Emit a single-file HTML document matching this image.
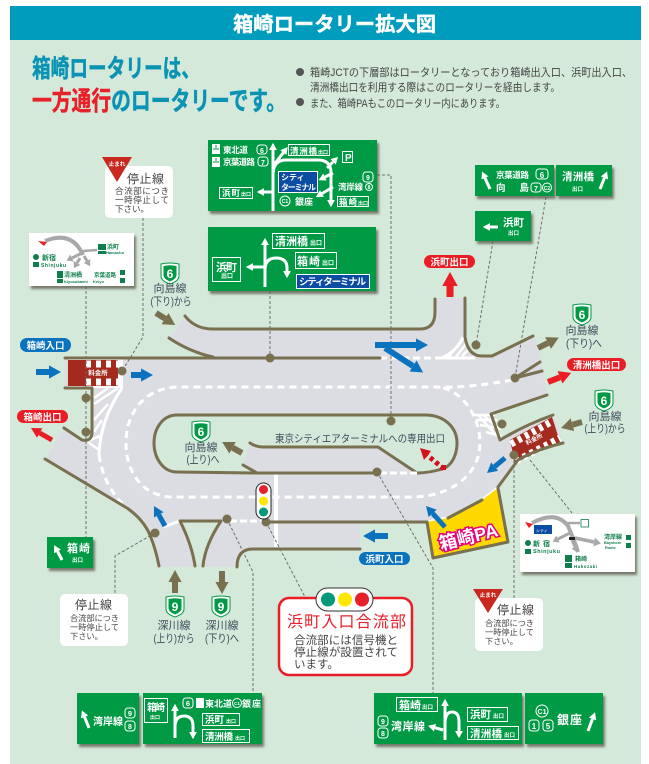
<!DOCTYPE html>
<html><head><meta charset="utf-8">
<style>
html,body{margin:0;padding:0;background:#fff;width:649px;height:764px;overflow:hidden}
svg{display:block}
text{font-family:"Liberation Sans","Noto Sans CJK JP",sans-serif}
.w{fill:#fff;font-weight:700}
.l{fill:#3f4a5a;font-size:11px;text-anchor:middle}
.c{fill:none;stroke:#6f6f66;stroke-width:1;stroke-dasharray:3 2}
.r{fill:none;stroke:#78704f;stroke-width:3;stroke-linecap:round;stroke-linejoin:round}
.b{fill:none;stroke:#fff;stroke-width:1}
.a{fill:none;stroke:#fff;stroke-width:3}
.p{fill:#fff;font-size:9.5px;font-weight:700;text-anchor:middle}
.s{fill:#009a44;filter:url(#sh)}
.g{fill:none;stroke:#a8a8a8}
</style></head><body>
<svg width="649" height="764" viewBox="0 0 649 764" xmlns="http://www.w3.org/2000/svg">
<defs>
<filter id="sh" x="-10%" y="-10%" width="125%" height="130%"><feDropShadow dx="2" dy="3" stdDeviation="1.2" flood-color="#5f5f50" flood-opacity=".8"/></filter>
<marker id="mb" viewBox="0 0 2 2.2" refX="0" refY="1.1" markerWidth="2" markerHeight="2.2" orient="auto"><path d="M0 0L2 1.1L0 2.2Z" fill="#0b72bd"/></marker>
<marker id="mr" viewBox="0 0 2 2.2" refX="0" refY="1.1" markerWidth="2" markerHeight="2.2" orient="auto"><path d="M0 0L2 1.1L0 2.2Z" fill="#ea1c24"/></marker>
<marker id="mo" viewBox="0 0 2 2.2" refX="0" refY="1.1" markerWidth="2" markerHeight="2.2" orient="auto"><path d="M0 0L2 1.1L0 2.2Z" fill="#78704f"/></marker>
<marker id="mw" viewBox="0 0 2.4 2.6" refX="0" refY="1.3" markerWidth="2.4" markerHeight="2.6" orient="auto"><path d="M0 0L2.4 1.3L0 2.6Z" fill="#fff"/></marker>
<marker id="mg" viewBox="0 0 2 2.6" refX="0" refY="1.3" markerWidth="2" markerHeight="2.6" orient="auto"><path d="M0 0L2 1.3L0 2.6Z" fill="#a8a8a8"/></marker>
<g id="sd"><path d="M-9,-9 Q0,-11 9,-9 L9,3 Q9,8 0,11 Q-9,8 -9,3Z" fill="#fff" stroke="#009a44" stroke-width="1"/><path d="M-6.5,-7 Q0,-8.5 6.5,-7 L6.5,2 Q6.5,6 0,8.5 Q-6.5,6 -6.5,2Z" fill="#009a44"/></g>
</defs>

<rect x="10" y="6" width="631" height="758" fill="#d4e9da"/>
<rect x="10" y="6" width="631" height="34" fill="#009cbd"/>
<text x="233" y="31" font-size="20" font-weight="700" fill="#fff" stroke="#fff" stroke-width=".4" textLength="203" lengthAdjust="spacingAndGlyphs">箱崎ロータリー拡大図</text>

<text x="32" y="77" font-size="25" font-weight="700" fill="#0a93b5" stroke="#0a93b5" stroke-width=".5" textLength="168" lengthAdjust="spacingAndGlyphs">箱崎ロータリーは、</text>
<text x="32" y="110" font-size="26" font-weight="700" fill="#0a93b5" stroke="#0a93b5" stroke-width=".5" textLength="254" lengthAdjust="spacingAndGlyphs"><tspan fill="#e8202a" stroke="#e8202a">一方通行</tspan>のロータリーです。</text>
<circle cx="300" cy="72" r="4" fill="#555"/><circle cx="300" cy="102" r="4" fill="#555"/>
<g font-size="11" fill="#444">
<text x="310" y="76" textLength="322" lengthAdjust="spacingAndGlyphs">箱崎JCTの下層部はロータリーとなっており箱崎出入口、浜町出入口、</text>
<text x="310" y="91" textLength="250" lengthAdjust="spacingAndGlyphs">清洲橋出口を利用する際はこのロータリーを経由します。</text>
<text x="310" y="107" textLength="195" lengthAdjust="spacingAndGlyphs">また、箱崎PAもこのロータリー内にあります。</text>
</g>

<!-- road -->
<path d="M65,358 L213,358 Q190,352 169,338 L185,316 Q195,329 213,329 L420,329 Q435,329 435,312 L435,298 L465,298 L465,337 Q468,356 482,356 L492,356 L533,336 L537,343 L547,394 L491,414 L500,440 L553,415 L563,443 Q535,450 518,460 L498,487 L448,518 L427,522 L360,522 L360,549 L253,549 Q237,549 237,567 L159,567 Q156,550 150,535 Q143,519 127,508 L45,459 L64,428 L82,440 L92,440 L92,388 L65,388Z" fill="#dcdce3"/>
<!-- center island -->
<path d="M177,415 L425,415 C445,415 457,428 457,443 C457,458 450,466 445,468 Q430,473 417,473 L177,472 C163,472 154,458 154,443 C154,428 163,415 177,415Z" fill="#d4e9da"/>
<path d="M250,443 Q256,447 263,447 L378,447 L417,473 L257,473 L243,465Z" fill="#dcdce3"/>
<!-- triangle island -->
<path d="M180,521 L221,521 Q205,545 203,567 L195,567 Q192,545 180,521Z" fill="#d4e9da"/>

<!-- hatching -->
<g fill="none" stroke="#fff" stroke-width="2.5">
<path d="M122,388 Q100,420 99,455" stroke-width="3"/>
<path d="M118,388L94,404M108,388L94,398M108,404L94,420M102,420L94,432M100,436L88,441M99,450L88,442"/>
<path d="M463,337 Q458,350 442,358" stroke-width="3"/>
<path d="M455,358L466,344M448,358L462,340M462,356L468,350"/>
<path d="M380,358H440" stroke-dasharray="7 4" stroke-width="3"/>
<path d="M438,358H475" stroke-width="3"/>
<path d="M472,415L495,415M476,420L497,420M480,425L498,428L483,415M486,432L500,436L490,415M478,415L497,436"/>
<path d="M276,473V547" stroke-width="4"/>
<path d="M230,521H263" stroke-width="3" stroke-dasharray="7 3"/>
<path d="M163,527L180,521" stroke-width="3"/>
<path d="M99,455 Q104,488 127,508" stroke-width="3" stroke-dasharray="7 5"/>
<path d="M428,522L448,518M482,500L498,488" stroke-width="3"/>
<path d="M512,380 Q470,388 435,387 L180,387 C145,387 126,412 126,443 C126,475 145,497 173,497 L412,497 C450,497 480,475 480,443 C480,415 460,387 435,387" stroke-width="3" stroke-dasharray="7 5"/>
</g>

<!-- toll markings -->
<rect x="68" y="359" width="55" height="29" fill="#fff"/>
<rect x="68" y="360" width="50" height="26" fill="#a52a1e"/>
<path d="M86,364H118M86,382H118" stroke="#fff" stroke-width="7" stroke-dasharray="5 5"/>
<text x="98" y="375" font-size="6.5" fill="#fff" font-weight="700" text-anchor="middle">料金所</text>
<path d="M510,440 L552,417 L560,442 L515,463Z" fill="#a52a1e"/>
<path d="M511,444L553,421M516,461L560,438" stroke="#fff" stroke-width="7" stroke-dasharray="4 4"/>
<text x="535" y="441" font-size="6" fill="#fff" font-weight="700" text-anchor="middle" transform="rotate(-27 535 441)">料金所</text>

<!-- PA -->
<path d="M498,488 L508,542 L433,558 L427,522 L448,518 L482,500Z" fill="#ffd800"/>
<path d="M498,488 L508,542 L433,558 L427,522" class="r"/>
<text x="470" y="543" font-size="18" font-weight="700" fill="#fff" stroke="#e6007e" stroke-width="3" paint-order="stroke" text-anchor="middle" transform="rotate(-14 470 543)">箱崎PA</text>

<!-- road lines -->
<g class="r">
<path d="M185,316 Q195,329 213,329 L420,329 Q435,329 435,312 L435,299"/>
<path d="M169,338 Q190,352 213,357"/>
<path d="M65,358 L380,358"/>
<path d="M465,298 L465,337 Q468,356 482,356 L492,356 L533,336"/>
<path d="M515,378 L540,362M515,378 L542,371"/>
<path d="M547,395 L491,414 L500,440 Q525,425 553,415"/>
<path d="M563,443 Q535,450 518,460 L498,487"/>
<path d="M448,518 L482,500"/>
<path d="M64,428 L82,440 Q92,442 92,432 L92,388 L65,388"/>
<path d="M45,459 L127,508 Q143,519 150,535 Q156,550 159,566"/>
<path d="M180,521 L221,521 M180,521 Q192,545 195,566 M221,521 Q205,545 203,566"/>
<path d="M267,522 L427,522"/>
<path d="M360,549 L253,549 Q237,549 237,567"/>
<path d="M243,465 L257,473 L377,473"/>
<path d="M417,473 Q430,473 445,468 C452,464 457,455 457,443 C457,428 445,415 425,415 L177,415 C163,415 154,428 154,443 C154,458 163,472 177,472 L257,473"/>
<path d="M250,443 Q256,447 263,447 L378,447 L417,473"/>
</g>
<path d="M380,473H417" stroke="#fff" stroke-width="3" stroke-dasharray="7 3"/>

<!-- red dotted arrow -->
<path d="M444,469 L427,455" stroke="#d2121a" stroke-width="5" stroke-dasharray="4 3" fill="none"/>
<path d="M420,448 L431,451 L424,460Z" fill="#d2121a"/>
<rect x="441" y="465" width="5" height="5" fill="#d2121a"/>

<!-- connectors -->
<g class="c">
<path d="M143,218V337L122,371"/>
<path d="M86,286V537"/>
<path d="M270,291V358"/>
<path d="M377,175H391V421"/>
<path d="M493,241L476,345"/>
<path d="M546,197L515,378"/>
<path d="M514,455V598"/>
<path d="M530,460L572,513"/>
<path d="M377,472L433,568V693"/>
<path d="M227,519L253,572V694"/>
<path d="M266,522L305,597"/>
<path d="M155,533L115,556V593"/>
</g>
<g fill="#78704f">
<circle cx="270" cy="358" r="4.5"/><circle cx="122" cy="371" r="4.5"/><circle cx="86" cy="398" r="4.5"/><circle cx="86" cy="432" r="4.5"/><circle cx="155" cy="533" r="4.5"/><circle cx="227" cy="519" r="4.5"/><circle cx="266" cy="522" r="4.5"/><circle cx="391" cy="421" r="4.5"/><circle cx="377" cy="472" r="4.5"/><circle cx="502" cy="424" r="4.5"/><circle cx="514" cy="455" r="4.5"/><circle cx="515" cy="378" r="4.5"/><circle cx="476" cy="345" r="4.5"/>
</g>

<!-- arrows -->
<g fill="none">
<g stroke="#0b72bd">
<path d="M36,372H49" stroke-width="6" marker-end="url(#mb)"/>
<path d="M131,375H141" stroke-width="6" marker-end="url(#mb)"/>
<path d="M375,345H416" stroke-width="6" marker-end="url(#mb)"/>
<path d="M385,348L413,366" stroke-width="6" marker-end="url(#mb)"/>
<path d="M505,458L494.7,466.6" stroke-width="5" marker-end="url(#mb)"/>
<path d="M445,527L432.7,513.4" stroke-width="5" marker-end="url(#mb)"/>
<path d="M165,526L158.8,514.8" stroke-width="5" marker-end="url(#mb)"/>
<path d="M388,536H375" stroke-width="6" marker-end="url(#mb)"/>
</g>
<g stroke="#ea1c24">
<path d="M450,297V286" stroke-width="7" marker-end="url(#mr)"/>
<path d="M52,440L39.7,433" stroke-width="5" marker-end="url(#mr)"/>
<path d="M548,382L560,377.3" stroke-width="6" marker-end="url(#mr)"/>
</g>
<g stroke="#78704f">
<path d="M156,313L165,318.6" stroke-width="6" marker-end="url(#mo)"/>
<path d="M538,348L548,343" stroke-width="6" marker-end="url(#mo)"/>
<path d="M242,453L232.6,447.8" stroke-width="6" marker-end="url(#mo)"/>
<path d="M582,422L572.5,424.7" stroke-width="6" marker-end="url(#mo)"/>
<path d="M175,593V582" stroke-width="6" marker-end="url(#mo)"/>
<path d="M222,571V582" stroke-width="6" marker-end="url(#mo)"/>
</g>
</g>

<!-- pills -->
<rect x="20" y="338" width="51" height="14" rx="7" fill="#0b72bd"/><text class="p" x="45.5" y="349">箱崎入口</text>
<rect x="17" y="410" width="51" height="13" rx="6.5" fill="#ea1c24"/><text class="p" x="42.5" y="420.5">箱崎出口</text>
<rect x="424" y="255" width="51" height="13" rx="6.5" fill="#ea1c24"/><text class="p" x="449.5" y="265.5">浜町出口</text>
<rect x="567" y="358" width="59" height="13" rx="6.5" fill="#ea1c24"/><text class="p" x="596.5" y="368.5">清洲橋出口</text>
<rect x="359" y="552" width="51" height="13" rx="6.5" fill="#0b72bd"/><text class="p" x="384.5" y="562.5">浜町入口</text>

<!-- shields and labels -->
<use href="#sd" x="170" y="273"/><text x="170" y="278" class="w" font-size="12" text-anchor="middle">6</text>
<text class="l" x="170" y="292">向島線</text><text class="l" x="171" y="305" textLength="41" lengthAdjust="spacingAndGlyphs">(下り)から</text>
<use href="#sd" x="582" y="314"/><text x="582" y="319" class="w" font-size="12" text-anchor="middle">6</text>
<text class="l" x="582" y="334">向島線</text><text class="l" x="584" y="347" textLength="36" lengthAdjust="spacingAndGlyphs">(下り)へ</text>
<use href="#sd" x="201" y="431"/><text x="201" y="436" class="w" font-size="12" text-anchor="middle">6</text>
<text class="l" x="201" y="451">向島線</text><text class="l" x="203" y="463" textLength="33" lengthAdjust="spacingAndGlyphs">(上り)へ</text>
<use href="#sd" x="604" y="400"/><text x="604" y="405" class="w" font-size="12" text-anchor="middle">6</text>
<text class="l" x="605" y="420">向島線</text><text class="l" x="605" y="432" textLength="41" lengthAdjust="spacingAndGlyphs">(上り)から</text>
<use href="#sd" x="175" y="606"/><text x="175" y="611" class="w" font-size="12" text-anchor="middle">9</text>
<text class="l" x="174" y="629">深川線</text><text class="l" x="174" y="642" textLength="41" lengthAdjust="spacingAndGlyphs">(上り)から</text>
<use href="#sd" x="221" y="606"/><text x="221" y="611" class="w" font-size="12" text-anchor="middle">9</text>
<text class="l" x="222" y="629">深川線</text><text class="l" x="222" y="642" textLength="34" lengthAdjust="spacingAndGlyphs">(下り)へ</text>
<text x="275" y="442" font-size="10.5" fill="#3f4a5a" textLength="170" lengthAdjust="spacingAndGlyphs">東京シティエアターミナルへの専用出口</text>

<!-- vertical signal -->
<rect x="256" y="483" width="15" height="36" rx="7.5" fill="#fff" stroke="#222" stroke-width="1"/>
<circle cx="263.500" cy="489.500" r="4.500" fill="#e8202a"/><circle cx="263.500" cy="501" r="4.500" fill="#ffe600"/><circle cx="263.500" cy="512" r="4.500" fill="#009a7a"/>

<!-- stop callouts -->
<rect x="105" y="166" width="68" height="52" rx="5" fill="#fff"/>
<path d="M102,157H132L117,182Z" fill="#c8281e"/><text x="117" y="166" font-size="5.500" fill="#fff" font-weight="700" text-anchor="middle">止まれ</text>
<text x="127" y="183" font-size="12" fill="#444" textLength="37">停止線</text>
<g font-size="8.500" fill="#444"><text x="115" y="194" textLength="54">合流部につき</text><text x="115" y="203" textLength="54">一時停止して</text><text x="115" y="212">下さい。</text></g>

<rect x="60" y="594" width="68" height="52" rx="5" fill="#fff"/>
<text x="75" y="609" font-size="12" fill="#444" textLength="37">停止線</text>
<g font-size="8.200" fill="#444"><text x="70" y="621" textLength="49">合流部につき</text><text x="70" y="630" textLength="49">一時停止して</text><text x="70" y="639">下さい。</text></g>

<rect x="475" y="598" width="68" height="53" rx="5" fill="#fff"/>
<path d="M473,589H503L488,613Z" fill="#c8281e"/><text x="488" y="597" font-size="5.500" fill="#fff" font-weight="700" text-anchor="middle">止まれ</text>
<text x="497" y="614" font-size="12" fill="#444" textLength="37">停止線</text>
<g font-size="8.200" fill="#444"><text x="485" y="626" textLength="49">合流部につき</text><text x="485" y="635" textLength="49">一時停止して</text><text x="485" y="644">下さい。</text></g>

<!-- red callout -->
<rect x="279" y="598" width="133" height="77" rx="10" fill="#fff" stroke="#ea1c24" stroke-width="2.500"/>
<rect x="316" y="588" width="57" height="23" rx="11.500" fill="#fff" stroke="#333" stroke-width="1"/>
<circle cx="328" cy="599.500" r="7" fill="#009a7a"/><circle cx="345" cy="599.500" r="7" fill="#ffe600"/><circle cx="362" cy="599.500" r="7" fill="#e8202a"/>
<text x="287" y="627" font-size="16" fill="#e8202a" textLength="119">浜町入口合流部</text>
<g font-size="11.500" fill="#444"><text x="294" y="644" textLength="104">合流部には信号機と</text><text x="294" y="656" textLength="104">停止線が設置されて</text><text x="294" y="668">います。</text></g>

<!-- S1 -->
<rect class="s" x="208" y="140" width="169" height="71"/>
<rect x="212" y="144" width="8" height="10" fill="#fff"/><rect x="212" y="157" width="8" height="10" fill="#fff"/>
<path d="M213,149H219M213,162H219M216,145V148M216,158V161" stroke="#009a44" fill="none"/>
<g class="b"><rect x="257" y="145" width="10" height="9" rx="3"/><rect x="258" y="157" width="10" height="9" rx="3"/><rect x="288.500" y="144.500" width="41" height="11"/><rect x="219.500" y="187.500" width="33" height="11"/><rect x="342.500" y="151.500" width="10" height="11"/><rect x="363" y="172" width="10" height="10" rx="3"/><circle cx="369" cy="187" r="3.500"/><rect x="337.500" y="196.500" width="31" height="10"/><circle cx="285" cy="201" r="5"/></g>
<g class="w" font-size="8.500"><text x="223" y="153" textLength="25">東北道</text><text x="223" y="165" textLength="32">京葉道路</text><text x="262" y="153" text-anchor="middle" font-size="7">6</text><text x="263" y="165" text-anchor="middle" font-size="7">7</text><text x="290" y="154" textLength="27">清洲橋</text><text x="318" y="154" font-size="5">出口</text><text x="222" y="196" textLength="18">浜町</text><text x="241" y="196" font-size="5">出口</text><text x="345" y="161" font-size="10">P</text><text x="368" y="180" text-anchor="middle" font-size="7">9</text><text x="338" y="190" textLength="25">湾岸線</text><text x="369" y="189" text-anchor="middle" font-size="5">8</text><text x="339" y="205" textLength="18">箱崎</text><text x="358" y="205" font-size="5">出口</text><text x="295" y="205" textLength="18" font-size="9">銀座</text><text x="285" y="203" text-anchor="middle" font-size="5">C1</text></g>
<path d="M273,211V150" class="a" marker-end="url(#mw)"/>
<path d="M273,166L283.300,152.700" class="a" stroke-width="2.500" marker-end="url(#mw)"/>
<path d="M273,192H264" class="a" marker-end="url(#mw)" stroke-width="3"/>
<path d="M273,175Q273,160 286,160L318,160Q331,160 331,173L331,200" class="a" marker-end="url(#mw)"/>
<path d="M327,168L333,162" class="a" stroke-width="2" marker-end="url(#mw)"/>
<path d="M333,173L325,177" class="a" stroke-width="2.500" marker-end="url(#mw)"/>
<path d="M333,187L322,193.500" class="a" stroke-width="2.500" marker-end="url(#mw)"/>
<rect x="278.500" y="171.500" width="39" height="21" fill="#0b4da2" stroke="#fff"/>
<text x="281" y="180" class="w" font-size="8">シティ</text><text x="281" y="190" class="w" font-size="8" textLength="35">ターミナル</text>

<!-- S2 -->
<rect class="s" x="208" y="227" width="168" height="64"/>
<g class="b"><rect x="212.500" y="257.500" width="28" height="24"/><rect x="272.500" y="233.500" width="52" height="15"/><rect x="295.500" y="252.500" width="41" height="16"/></g>
<rect x="296.500" y="274.500" width="73" height="14" fill="#0b4da2" stroke="#fff"/>
<g class="w"><text x="216" y="271" font-size="11" textLength="21">浜町</text><text x="221" y="278" font-size="6">出口</text><text x="275" y="245" font-size="11" textLength="33">清洲橋</text><text x="310" y="245" font-size="6">出口</text><text x="297" y="265" font-size="11" textLength="23">箱崎</text><text x="322" y="265" font-size="6">出口</text><text x="299" y="285" font-size="9.500" textLength="67">シティターミナル</text></g>
<path d="M265,287V245" class="a" marker-end="url(#mw)" stroke-width="4"/>
<path d="M265,267H253" class="a" stroke-width="4" marker-end="url(#mw)"/>
<path d="M265,270Q265,258 276,258Q287,258 287,268V271" class="a" marker-end="url(#mw)"/>

<!-- S3 -->
<rect x="29" y="233" width="105" height="53" fill="#fff" filter="url(#sh)"/>
<path d="M45,241Q72,230 83,255" class="g" stroke-width="4"/>
<path d="M82,253L72,258" class="g" stroke-width="3" marker-end="url(#mg)"/>
<path d="M80,258L77,263" class="g" stroke-width="3" marker-end="url(#mg)"/>
<path d="M84,256L87,261" class="g" stroke-width="3" marker-end="url(#mg)"/>
<path d="M83,251L97,250" class="g" stroke-width="2.500"/>
<path d="M38,241L47,242L44,246Z" fill="#e8202a"/>
<g fill="#0e7e4b" font-weight="700"><rect x="98" y="244" width="8" height="6"/><rect x="98" y="251" width="8" height="3"/><rect x="57" y="271" width="6" height="7"/><rect x="57" y="279" width="6" height="4"/><rect x="33" y="262" width="6" height="5"/>
<circle cx="36" cy="257" r="3"/><rect x="120" y="270" width="5" height="5"/><rect x="120" y="278" width="5" height="5"/>
<text x="107" y="249" font-size="6">浜町</text><text x="106" y="254" font-size="4">Hamacho</text><text x="42" y="260" font-size="7">新宿</text><text x="41" y="267" font-size="5" textLength="25">Shinjuku</text><text x="64" y="277" font-size="6">清洲橋</text><text x="64" y="283" font-size="4">Kiyosubashi</text><text x="94" y="277" font-size="5.500">京葉道路</text><text x="93" y="283" font-size="4">Keiyo</text></g>

<!-- S4 S5 S6 -->
<rect class="s" x="475" y="165" width="79" height="31"/>
<rect class="s" x="556" y="165" width="56" height="31"/>
<rect class="s" x="475" y="211" width="56" height="30"/>
<g class="w"><text x="496" y="178" font-size="8.500" textLength="33">京葉道路</text><text x="496" y="191" font-size="9.500" textLength="33">向 島</text><text x="562" y="180" font-size="10.500" textLength="32">清洲橋</text><text x="572" y="191" font-size="5.500">出口</text><text x="503" y="226" font-size="10.500" textLength="21">浜町</text><text x="508" y="235" font-size="5.500">出口</text>
<text x="542" y="178" font-size="8" text-anchor="middle">6</text><text x="536" y="191" font-size="7" text-anchor="middle">7</text><text x="547" y="190" font-size="5" text-anchor="middle">C2</text></g>
<g class="b"><rect x="536" y="169" width="12" height="10" rx="3"/><rect x="531" y="183" width="10" height="9" rx="3"/><circle cx="547" cy="187.500" r="4.500"/></g>
<path d="M490,189L485,178" class="a" stroke-width="4" marker-end="url(#mw)"/>
<path d="M600,189L604.400,178" class="a" stroke-width="4" marker-end="url(#mw)"/>
<path d="M498,227H490" class="a" stroke-width="4" marker-end="url(#mw)"/>

<!-- S7 -->
<rect class="s" x="47" y="537" width="46" height="31"/>
<text x="67" y="552" class="w" font-size="11" textLength="23">箱崎</text><text x="72" y="562" class="w" font-size="5.500">出口</text>
<path d="M62,560L57.500,551.500" class="a" stroke-width="4" marker-end="url(#mw)"/>

<!-- S8 S9 -->
<rect class="s" x="77" y="693" width="62" height="51"/>
<rect class="s" x="143" y="693" width="119" height="51"/>
<g class="b"><rect x="125" y="708" width="10" height="10" rx="3"/><rect x="125" y="721" width="10" height="10" rx="3"/><rect x="144.500" y="698.500" width="23" height="24"/><rect x="183" y="698" width="10" height="10" rx="3"/><rect x="202.500" y="713.500" width="37" height="12"/><rect x="202.500" y="729.500" width="47" height="13"/><circle cx="237" cy="703" r="4.500"/></g>
<rect x="196" y="698" width="8" height="10" fill="#fff"/>
<g class="w"><text x="93" y="725" font-size="10" textLength="30">湾岸線</text><text x="130" y="716" font-size="7.500" text-anchor="middle">9</text><text x="130" y="729" font-size="7" text-anchor="middle">8</text><text x="147" y="711" font-size="10" textLength="18">箱崎</text><text x="150" y="719" font-size="5">出口</text><text x="188" y="706" font-size="7.500" text-anchor="middle">6</text><text x="205" y="707" font-size="9" textLength="27">東北道</text><text x="237" y="705" font-size="4.500" text-anchor="middle">C1</text><text x="242" y="707" font-size="9" textLength="19">銀座</text><text x="205" y="723" font-size="9.500" textLength="19">浜町</text><text x="226" y="723" font-size="5">出口</text><text x="205" y="740" font-size="9.500" textLength="28">清洲橋</text><text x="235" y="740" font-size="5">出口</text></g>
<path d="M89,728L84.600,717" class="a" stroke-width="4" marker-end="url(#mw)"/>
<path d="M175,738V711" class="a" stroke-width="5" marker-end="url(#mw)"/>
<path d="M175,727Q175,716 184,716Q193,716 193,726V732" class="a" marker-end="url(#mw)"/>

<!-- S10 S11 -->
<rect class="s" x="374" y="693" width="148" height="51"/>
<rect class="s" x="525" y="693" width="78" height="51"/>
<g class="b"><rect x="396.500" y="697.500" width="41" height="14"/><rect x="467.500" y="707.500" width="40" height="14"/><rect x="467.500" y="726.500" width="51" height="13"/><rect x="378" y="716" width="10" height="10" rx="3"/><rect x="378" y="728" width="10" height="10" rx="3"/><circle cx="542" cy="711" r="6"/><rect x="529" y="720" width="10" height="11" rx="3"/><rect x="543" y="720" width="10" height="11" rx="3"/></g>
<g class="w"><text x="399" y="709" font-size="11" textLength="22">箱崎</text><text x="422" y="709" font-size="5.500">出口</text><text x="470" y="718" font-size="10.500" textLength="21">浜町</text><text x="493" y="718" font-size="5.500">出口</text><text x="470" y="737" font-size="10.500" textLength="32">清洲橋</text><text x="504" y="737" font-size="5.500">出口</text><text x="391" y="730" font-size="11" textLength="34">湾岸線</text><text x="383" y="724" font-size="7" text-anchor="middle">9</text><text x="383" y="736" font-size="7" text-anchor="middle">8</text><text x="542" y="714" font-size="7" text-anchor="middle">C1</text><text x="534" y="729" font-size="8" text-anchor="middle">1</text><text x="548" y="729" font-size="8" text-anchor="middle">5</text><text x="557" y="724" font-size="12" textLength="25">銀座</text></g>
<path d="M445,740V706" class="a" stroke-width="4" marker-end="url(#mw)"/>
<path d="M443,730L435,727.700" class="a" stroke-width="3" marker-end="url(#mw)"/>
<path d="M445,724Q445,712 452,712Q459,712 459,722V731" class="a" stroke-width="2.500" marker-end="url(#mw)"/>
<path d="M588,731L592.500,719" class="a" stroke-width="4" marker-end="url(#mw)"/>

<!-- S12 -->
<rect x="520" y="514" width="115" height="58" fill="#fff" filter="url(#sh)"/>
<path d="M532,523Q556,510 568,526Q575,542 578,552" class="g" stroke-width="4"/>
<path d="M575,538L594,542" class="g" stroke-width="3.500" marker-end="url(#mg)"/>
<path d="M570,533L558,539" class="g" stroke-width="3" marker-end="url(#mg)"/>
<path d="M572,540L575,547" class="g" stroke-width="3" marker-end="url(#mg)"/>
<path d="M567,523H580" class="g" stroke-width="2.500"/>
<rect x="534" y="525" width="18" height="9" fill="#0b4da2"/>
<text x="536" y="532" font-size="4" fill="#fff">シティ</text>
<path d="M525,522L533,524L529,528Z" fill="#e8202a"/>
<rect x="569" y="537" width="6" height="3" fill="#222"/>
<rect x="581" y="519.500" width="7.500" height="7.500" fill="#fff" stroke="#0e7e4b" stroke-width=".8"/>
<g fill="#0e7e4b" font-weight="700"><circle cx="528" cy="543" r="3"/><rect x="525" y="549" width="6" height="5"/>
<rect x="565" y="555" width="7" height="7"/><rect x="565" y="563" width="7" height="5"/>
<rect x="626" y="535" width="5" height="5"/><rect x="626" y="543" width="5" height="5"/>
<text x="533" y="546" font-size="7" textLength="17">新宿</text><text x="533" y="553" font-size="5.500" textLength="27">Shinjuku</text><text x="604" y="539" font-size="6" textLength="18">湾岸線</text><text x="604" y="544" font-size="3.800">Bayshore</text><text x="605" y="549" font-size="3.800">Route</text><text x="575" y="561" font-size="6">箱崎</text><text x="574" y="568" font-size="4.500" textLength="23">Hakozaki</text></g>
</svg>
</body></html>
